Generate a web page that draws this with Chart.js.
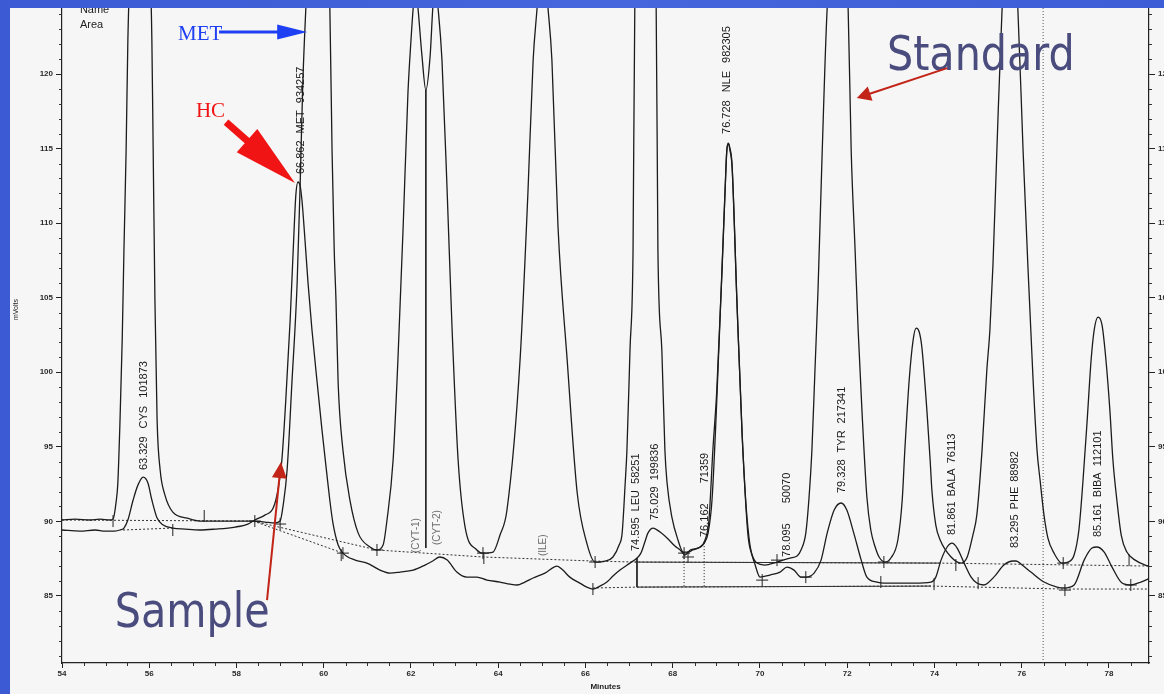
<!DOCTYPE html>
<html><head><meta charset="utf-8">
<script src="https://cdn.jsdelivr.net/npm/chart.js@4.4.1/dist/chart.umd.min.js"></script>
<style>
html,body{margin:0;padding:0;overflow:hidden;background:#3f5fd8;width:1164px;height:694px;}
#wrap{position:absolute;left:0;top:0;width:1190px;height:694px;}
</style></head><body>
<div id="wrap"><canvas id="c" width="1190" height="694"></canvas></div>
<script>
// ---- tick labels ----
const xTicks = [54,56,58,60,62,64,66,68,70,72,74,76,78];
const yTicks = [85,90,95,100,105,110,115,120];

// ---- Standard trace (minutes, mVolts) ----
const stdTime = [54.00,54.30,54.64,54.87,55.10,55.17,55.24,55.28,55.33,55.38,55.42,55.47,55.51,55.56,55.79,56.02,56.06,56.09,56.13,56.18,56.25,56.36,56.54,56.87,57.16,57.85,58.38,58.65,58.88,59.00,59.07,59.16,59.27,59.39,59.46,59.52,59.59,59.69,59.87,60.05,60.14,60.19,60.24,60.28,60.33,60.44,60.60,60.79,61.06,61.22,61.36,61.45,61.59,61.70,61.82,61.93,62.00,62.05,62.10,62.16,62.25,62.34,62.44,62.50,62.56,62.62,62.71,62.83,62.94,63.08,63.24,63.51,63.65,63.88,64.04,64.20,64.50,64.68,64.80,64.89,65.00,65.14,65.23,65.37,65.58,65.81,66.03,66.22,66.45,66.63,66.77,66.84,66.91,66.95,67.02,67.09,67.13,67.36,67.62,67.66,67.75,67.82,67.87,67.98,68.12,68.24,68.35,68.46,68.63,68.72,68.81,68.90,69.01,69.13,69.20,69.24,69.28,69.31,69.36,69.47,69.59,69.72,69.82,69.93,70.11,70.39,70.69,70.85,70.94,71.05,71.12,71.19,71.26,71.33,71.42,71.54,71.77,72.02,72.09,72.18,72.25,72.34,72.45,72.54,72.64,72.73,72.87,73.00,73.16,73.26,73.32,73.42,73.51,73.58,73.65,73.71,73.83,73.90,73.94,74.03,74.13,74.38,74.61,74.75,74.88,74.97,75.09,75.20,75.27,75.34,75.43,75.55,75.73,75.91,76.03,76.14,76.26,76.35,76.42,76.51,76.60,76.74,76.92,77.06,77.20,77.31,77.40,77.50,77.59,77.66,77.75,77.84,77.93,78.02,78.09,78.18,78.28,78.41,78.60,78.83,78.99];
const stdMv = [90.09,90.15,90.09,90.15,90.09,90.15,91.29,92.57,96.79,102.16,108.20,114.90,122.28,126.98,133.01,126.98,122.28,114.90,104.84,96.79,93.44,91.76,90.62,90.22,90.02,90.02,90.02,89.95,89.89,90.02,91.09,93.44,99.28,105.98,112.69,119.40,124.43,130.33,135.02,130.33,124.43,114.90,108.20,104.84,99.28,94.78,91.43,89.21,88.28,88.08,88.41,90.09,94.11,100.82,109.74,118.73,122.28,124.43,125.97,124.43,121.27,118.93,121.27,124.43,125.97,124.43,120.94,112.02,103.03,94.11,89.62,88.08,87.87,87.94,89.08,90.76,100.82,112.02,120.94,124.43,128.99,124.43,120.94,109.74,100.82,91.90,88.54,87.27,87.34,87.61,88.41,89.21,92.57,94.78,101.49,108.20,124.43,131.67,124.43,108.20,101.49,94.78,92.57,90.29,88.75,87.94,87.94,88.08,88.28,88.54,89.21,91.43,98.14,107.06,112.22,114.90,115.31,114.90,113.76,104.84,95.92,89.21,87.74,87.20,87.07,87.27,87.54,87.67,88.08,89.21,91.43,94.78,100.15,105.51,114.23,124.43,131.67,124.43,114.90,108.20,102.83,97.26,91.63,89.42,88.28,87.61,87.27,87.54,88.75,91.43,94.78,99.48,102.16,102.96,102.70,101.69,97.26,94.11,92.10,89.75,88.75,87.61,87.20,87.61,89.08,90.42,94.78,100.15,102.83,107.19,114.90,124.43,131.67,124.43,114.90,107.19,99.48,94.78,92.77,90.42,88.88,87.87,87.20,87.27,87.74,89.42,92.57,96.79,100.82,102.83,103.70,103.17,100.82,97.46,94.11,91.43,89.08,87.94,87.40,87.07,86.93];

// ---- Sample trace (minutes, mVolts) ----
const smpTime = [54.00,54.41,54.76,54.99,55.21,55.33,55.42,55.51,55.63,55.74,55.86,55.97,56.06,56.18,56.32,56.54,56.82,57.16,57.51,57.97,58.26,58.42,58.65,58.84,58.95,59.04,59.13,59.23,59.32,59.36,59.41,59.46,59.50,59.57,59.64,59.73,59.85,59.96,60.07,60.14,60.21,60.33,60.44,60.72,60.99,61.29,61.52,61.75,62.05,62.32,62.50,62.66,62.83,63.05,63.28,63.51,63.74,64.04,64.27,64.43,64.61,64.80,65.07,65.35,65.48,65.64,65.87,66.03,66.17,66.33,66.49,66.63,66.79,67.02,67.18,67.27,67.36,67.43,67.55,67.71,67.87,68.05,68.17,68.28,68.40,68.63,68.74,68.83,68.92,69.01,69.13,69.20,69.24,69.27,69.31,69.36,69.47,69.59,69.68,69.77,69.89,70.00,70.23,70.46,70.62,70.78,70.94,71.05,71.24,71.40,71.54,71.70,71.86,71.99,72.15,72.32,72.45,72.68,72.84,73.14,73.53,73.92,74.03,74.15,74.29,74.40,74.52,74.68,74.84,74.97,75.13,75.36,75.59,75.80,75.87,76.01,76.21,76.51,76.81,76.97,77.20,77.43,77.61,77.72,77.89,78.07,78.30,78.50,78.73,78.99];
const smpMv = [89.42,89.35,89.42,89.35,89.35,89.42,89.55,90.09,91.43,92.43,92.97,92.57,91.43,90.22,89.75,89.55,89.48,89.42,89.48,89.62,89.82,90.09,90.42,90.89,92.10,94.11,98.14,103.50,109.54,111.88,112.76,112.49,111.55,108.87,105.98,102.83,99.28,96.12,93.20,91.40,89.90,88.41,87.87,87.40,87.20,86.73,86.53,86.60,86.73,87.07,87.34,87.61,87.40,86.60,86.26,86.26,86.06,85.93,85.79,85.73,85.93,86.20,86.53,87.00,86.73,86.26,85.86,85.59,85.46,85.66,85.93,86.33,86.73,87.20,87.54,87.87,88.61,89.21,89.55,89.28,88.88,88.34,88.08,87.74,88.08,88.28,88.75,90.09,94.78,98.81,106.85,112.22,114.90,115.37,115.04,113.90,104.84,95.79,91.09,88.41,87.07,86.26,86.40,86.60,86.93,86.73,86.26,86.26,86.53,87.40,89.21,90.76,91.23,90.76,89.21,87.40,86.26,85.93,85.86,85.86,85.86,85.93,86.26,87.40,88.28,88.54,88.21,87.20,86.26,85.86,85.73,86.26,87.07,87.34,87.34,87.07,86.60,85.93,85.59,85.53,85.73,87.40,88.21,88.28,87.94,86.93,85.86,85.73,85.93,86.26];

// ---- integration baselines ----
const stdBaseTime = [54.00,58.38,61.22,63.65,66.17,67.13,74.13,78.99];
const stdBaseMv   = [90.09,90.02,88.08,87.61,87.34,87.27,87.20,87.00];
const stdBaseSolidTime = [67.13,74.13];
const stdBaseSolidMv   = [87.27,87.20];
const smpBase1Time = [55.40,56.54];
const smpBase1Mv   = [89.42,89.55];
const smpBase2Time = [58.38,60.44];
const smpBase2Mv   = [90.02,87.87];
const smpBase3Time = [66.17,67.18,73.92,76.97,78.99];
const smpBase3Mv   = [85.53,85.59,85.66,85.46,85.46];
const smpBaseSolidTime = [67.18,73.92];
const smpBaseSolidMv   = [85.59,85.66];

// ---- drop lines ----
const dropTime   = [62.34,67.18,68.26,68.72];
const dropTop    = [118.93,87.54,87.94,88.54];
const dropBottom = [88.21,85.59,85.59,85.59];
const markerTime = [76.49];

// ---- peak start/end marks ----
const tickTime = [55.17,56.54,57.26,60.40,63.67,66.17,72.77,73.99,74.49,75.00,78.46];
const tickMv   = [90.02,89.42,90.36,87.74,87.54,85.46,85.93,85.79,87.07,85.86,87.40];
const crossTime = [58.42,59.00,60.44,61.22,63.65,66.22,68.26,68.35,70.05,70.39,71.05,72.84,76.95,76.99,78.50];
const crossMv   = [90.02,89.82,87.87,88.08,87.87,87.27,87.87,87.61,86.06,87.40,86.26,87.27,87.20,85.39,85.73];

const pts = (t, v) => t.map((x, i) => ({x: x, y: v[i]}));
const X_MIN = 54, X_MAX = 78.917, Y_MIN = 80.5, Y_MAX = 124.43;

// ---- annotations (positions in data units) ----
const peakLabels = [
  {words:['63.329','CYS','101873'], t:55.88, v:93.44, gap:8},
  {words:['66.862','MET','934257'], t:59.48, v:113.29, gap:7},
  {words:['76.728','NLE','982305'], t:69.24, v:115.98, gap:8},
  {words:['74.595','LEU','58251'], t:67.16, v:88.01, gap:6},
  {words:['75.029','199836'], t:67.59, v:90.09, gap:6},
  {words:['76.162','71359'], t:68.74, v:88.95, gap:20},
  {words:['78.095','50070'], t:70.62, v:87.61, gap:20},
  {words:['79.328','TYR','217341'], t:71.88, v:91.90, gap:7},
  {words:['81.861','BALA','76113'], t:74.40, v:89.08, gap:5},
  {words:['83.295','PHE','88982'], t:75.85, v:88.21, gap:5},
  {words:['85.161','BIBA','112101'], t:77.75, v:88.95, gap:6}
];
const faintLabels = [
  {words:['(CYT-1)'], t:62.11, v:87.87},
  {words:['(CYT-2)'], t:62.60, v:88.41},
  {words:['(ILE)'], t:65.03, v:87.67}
];

function lineDs(data, opts) {
  return Object.assign({data: data, showLine: true, pointRadius: 0, pointHoverRadius: 0,
    borderColor: '#1c1c1c', borderWidth: 1.3, fill: false}, opts || {});
}

const datasets = [
  lineDs(pts(stdTime, stdMv), {label:'Standard', cubicInterpolationMode:'monotone'}),
  lineDs(pts(smpTime, smpMv), {label:'Sample', cubicInterpolationMode:'monotone'}),
  lineDs(pts(stdBaseTime, stdBaseMv), {label:'base', borderWidth:1, borderColor:'#333', borderDash:[2,2]}),
  lineDs(pts(stdBaseSolidTime, stdBaseSolidMv), {label:'base', borderWidth:1, borderColor:'#2a2a2a'}),
  lineDs(pts(smpBase1Time, smpBase1Mv), {label:'base', borderWidth:1, borderColor:'#333', borderDash:[2,2]}),
  lineDs(pts(smpBase2Time, smpBase2Mv), {label:'base', borderWidth:1, borderColor:'#333', borderDash:[2,2]}),
  lineDs(pts(smpBase3Time, smpBase3Mv), {label:'base', borderWidth:1, borderColor:'#333', borderDash:[2,2]}),
  lineDs(pts(smpBaseSolidTime, smpBaseSolidMv), {label:'base', borderWidth:1, borderColor:'#2a2a2a'}),
  lineDs(pts(markerTime.concat(markerTime), [Y_MIN, Y_MAX]), {label:'marker', borderWidth:1, borderColor:'#555', borderDash:[1,2]}),
  {label:'ticks', data: pts(tickTime, tickMv), pointStyle:'line', rotation:90, pointRadius:6, pointHoverRadius:6, borderColor:'#222', borderWidth:1, showLine:false},
  {label:'cross', data: pts(crossTime, crossMv), pointStyle:'cross', pointRadius:6, pointHoverRadius:6, borderColor:'#222', borderWidth:1, showLine:false}
];
dropTime.forEach((t, i) => {
  datasets.push(lineDs([{x:t, y:dropTop[i]}, {x:t, y:dropBottom[i]}],
    {label:'drop', borderWidth:1, borderColor:'#222', borderDash: i < 2 ? [] : [1,2]}));
});

function vtext(ctx, words, x, y, gap, font, color) {
  ctx.save();
  ctx.translate(x, y);
  ctx.rotate(-Math.PI / 2);
  ctx.font = font; ctx.fillStyle = color;
  ctx.textBaseline = 'middle'; ctx.textAlign = 'left';
  let pos = 0;
  words.forEach(w => { ctx.fillText(w, pos, 0); pos += ctx.measureText(w).width + gap; });
  ctx.restore();
}
function arrow(ctx, x1, y1, x2, y2, shaft, headLen, headW, color) {
  const a = Math.atan2(y2 - y1, x2 - x1);
  const bx = x2 - Math.cos(a) * headLen, by = y2 - Math.sin(a) * headLen;
  ctx.save();
  ctx.strokeStyle = color; ctx.fillStyle = color; ctx.lineWidth = shaft; ctx.lineCap = 'butt';
  ctx.beginPath(); ctx.moveTo(x1, y1); ctx.lineTo(bx + Math.cos(a) * 2, by + Math.sin(a) * 2); ctx.stroke();
  const nx = -Math.sin(a) * headW / 2, ny = Math.cos(a) * headW / 2;
  ctx.beginPath(); ctx.moveTo(x2, y2); ctx.lineTo(bx + nx, by + ny); ctx.lineTo(bx - nx, by - ny); ctx.closePath(); ctx.fill();
  ctx.restore();
}

const decor = {
  id: 'decor',
  beforeDraw(chart) {
    const ctx = chart.ctx;
    ctx.save();
    ctx.fillStyle = '#f5f6f5';
    ctx.fillRect(0, 0, chart.width, chart.height);
    ctx.restore();
  },
  afterDraw(chart) {
    const ctx = chart.ctx, ca = chart.chartArea;
    const xs = chart.scales.x, ys = chart.scales.y;
    const X = t => xs.getPixelForValue(t), Y = v => ys.getPixelForValue(v);
    ctx.save();
    // minor ticks
    ctx.strokeStyle = '#333'; ctx.lineWidth = 1;
    ctx.beginPath();
    for (let m = 54.5; m < X_MAX; m += 0.5) {
      if (Math.abs(m / 2 - Math.round(m / 2)) < 1e-6) continue;
      const px = Math.round(X(m)) + 0.5;
      ctx.moveTo(px, ca.bottom); ctx.lineTo(px, ca.bottom + 3);
    }
    for (let v = 81; v <= 124; v++) {
      if (v % 5 === 0) continue;
      const py = Math.round(Y(v)) + 0.5;
      ctx.moveTo(ca.left - 3, py); ctx.lineTo(ca.left, py);
      ctx.moveTo(ca.right, py); ctx.lineTo(ca.right + 3, py);
    }
    ctx.stroke();
    // peak labels
    peakLabels.forEach(l => vtext(ctx, l.words, X(l.t), Y(l.v), l.gap, '11px "Liberation Sans", Arial, sans-serif', '#1a1a1a'));
    faintLabels.forEach(l => vtext(ctx, l.words, X(l.t), Y(l.v), 4, '10px "Liberation Sans", Arial, sans-serif', '#6e6e6e'));
    // y title
    vtext(ctx, ['mVolts'], 16, 320, 0, '7px "Liberation Sans", Arial, sans-serif', '#222');
    // Name / Area
    ctx.fillStyle = '#222'; ctx.font = '11px "Liberation Sans", Arial, sans-serif';
    ctx.textAlign = 'left'; ctx.textBaseline = 'alphabetic';
    ctx.fillText('Name', X(54.41), Y(124.09));
    ctx.fillText('Area', X(54.41), Y(123.09));
    // big captions
    ctx.fillStyle = '#4b4c7e';
    ctx.font = '48px "DejaVu Sans", sans-serif';
    [['Standard', 72.91, 120.27], ['Sample', 55.21, 82.91]].forEach(c => {
      ctx.save(); ctx.translate(X(c[1]), Y(c[2])); ctx.scale(0.86, 1); ctx.fillText(c[0], 0, 0); ctx.restore();
    });
    // MET (blue) and HC (red)
    ctx.font = '21px "Liberation Serif", "Times New Roman", serif';
    ctx.fillStyle = '#1f3ff2';
    ctx.fillText('MET', X(56.66), Y(122.28));
    ctx.fillStyle = '#f01414';
    ctx.fillText('HC', X(57.07), Y(117.12));
    // arrows
    arrow(ctx, X(57.60), Y(122.82), X(59.62), Y(122.82), 3, 30, 15, '#1f3ff2');
    arrow(ctx, X(57.76), Y(116.78), X(59.34), Y(112.69), 7, 64, 31, '#f01414');
    arrow(ctx, X(58.70), Y(84.72), X(59.02), Y(93.98), 2, 16, 15, '#c22418');
    arrow(ctx, X(74.29), Y(120.40), X(72.22), Y(118.39), 2, 14, 15, '#c22418');
    // blue slide frame
    const g = ctx.createLinearGradient(0, 0, chart.width, 0);
    g.addColorStop(0, '#3b5ad4'); g.addColorStop(0.5, '#4566dc'); g.addColorStop(1, '#3d5dd6');
    ctx.fillStyle = g;
    ctx.fillRect(0, 0, chart.width, 8);
    ctx.fillRect(0, 0, 10, chart.height);
    ctx.restore();
  }
};

const tickFont = {family: '"Liberation Sans", Arial, sans-serif', size: 8, weight: 'bold'};
const yScale = (pos) => ({
  type: 'linear', position: pos, min: Y_MIN, max: Y_MAX,
  afterBuildTicks: s => { s.ticks = yTicks.map(v => ({value: v})); },
  afterFit: s => { s.width = pos === 'left' ? 62 : 41; },
  ticks: {font: tickFont, color: '#2a2a2a', padding: 3},
  grid: {drawOnChartArea: false, drawTicks: true, tickLength: 6, tickColor: '#222', tickWidth: 1},
  border: {display: true, color: '#222', width: 1.2}
});

new Chart(document.getElementById('c'), {
  type: 'scatter',
  data: {datasets: datasets},
  options: {
    responsive: false, animation: false, events: [],
    layout: {padding: {top: 8, left: 0, right: 0, bottom: 0}},
    plugins: {legend: {display: false}, tooltip: {enabled: false}},
    scales: {
      x: {
        type: 'linear', position: 'bottom', min: X_MIN, max: X_MAX,
        afterBuildTicks: s => { s.ticks = xTicks.map(v => ({value: v})); },
        afterFit: s => { s.height = 31; },
        ticks: {font: tickFont, color: '#2a2a2a', padding: 1, maxRotation: 0},
        grid: {drawOnChartArea: false, drawTicks: true, tickLength: 5, tickColor: '#222', tickWidth: 1},
        border: {display: true, color: '#222', width: 1.2},
        title: {display: true, text: 'Minutes', font: {family: '"Liberation Sans", Arial, sans-serif', size: 8, weight: 'bold'}, color: '#222', padding: {top: 0, bottom: 2}}
      },
      y: yScale('left'),
      y2: yScale('right')
    }
  },
  plugins: [decor]
});
</script>
</body></html>
